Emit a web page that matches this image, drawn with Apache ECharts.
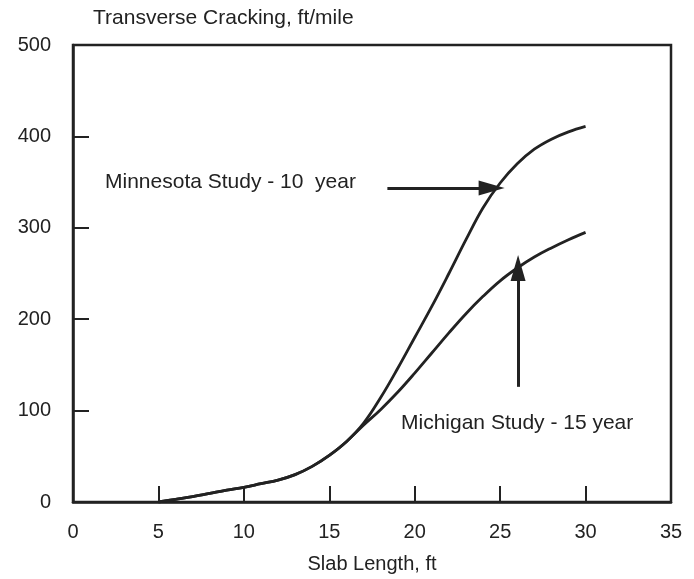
<!DOCTYPE html>
<html>
<head>
<meta charset="utf-8">
<script src="https://cdn.jsdelivr.net/npm/echarts@6/dist/echarts.min.js"></script>
<style>
html,body{margin:0;padding:0;background:#fff;}
#chart{width:694px;height:579px;}
</style>
</head>
<body>
<div id="chart"></div>
<script>
// Data
var minnesota = [[5,0],[6,3],[7,6],[8,9.5],[9,13],[10,16],[11,20],[12,24],[13,30],[14,39],[15,51],[16,66],[17,86],[18,114],[19,146],[20,180],[21,214],[22,250],[23,287],[24,322],[25,349],[26,370],[27,386],[28,397],[29,405],[30,411]];
var michigan = [[5,0],[6,3],[7,6],[8,9.5],[9,13],[10,16],[11,20],[12,24],[13,30],[14,39],[15,51],[16,66],[17,84],[18,101],[19,120],[20,141],[21,163],[22,185],[23,206],[24,225],[25,242],[26,256],[27,268],[28,278],[29,287],[30,295]];
var minnesotaArrow = [[18.4,343.5],[24.5,343.5]];
var michiganArrow = [[26.05,126],[26.05,256]];
var xTicks = [0,5,10,15,20,25,30,35];
var yTicks = [0,100,200,300,400,500];
var titleText = 'Transverse Cracking, ft/mile';
var xName = 'Slab Length, ft';
var labelMinnesota = 'Minnesota Study - 10  year';
var labelMichigan = 'Michigan Study - 15 year';

var chart = echarts.init(document.getElementById('chart'));
var ink = '#222';
var font = '"Liberation Sans", Arial, Helvetica, sans-serif';

function arrowLine(pts){
  return {
    silent: true,
    symbol: ['none','triangle'],
    symbolSize: [15, 26],
    lineStyle: {color: ink, width: 3, type: 'solid'},
    label: {show: false},
    data: [[{coord: pts[0]}, {coord: pts[1]}]]
  };
}

chart.setOption({
  animation: false,
  backgroundColor: '#fff',
  grid: {left: 73, right: 23, top: 45, bottom: 77, show: true, borderColor: ink, borderWidth: 2.5, backgroundColor: 'transparent'},
  xAxis: {
    type: 'value', min: xTicks[0], max: xTicks[xTicks.length-1], interval: 5,
    name: xName, nameLocation: 'middle', nameGap: 52,
    nameTextStyle: {fontFamily: font, fontSize: 20, color: ink},
    axisLine: {show: true, lineStyle: {color: ink, width: 2.5}},
    axisTick: {show: true, inside: true, length: 16, lineStyle: {color: ink, width: 2}},
    axisLabel: {fontFamily: font, fontSize: 20, color: ink, margin: 20},
    splitLine: {show: false}
  },
  yAxis: {
    type: 'value', min: yTicks[0], max: yTicks[yTicks.length-1], interval: 100,
    axisLine: {show: true, lineStyle: {color: ink, width: 2.5}},
    axisTick: {show: true, inside: true, length: 16, lineStyle: {color: ink, width: 2}},
    axisLabel: {fontFamily: font, fontSize: 20, color: ink, margin: 22},
    splitLine: {show: false}
  },
  graphic: [
    {type: 'text', left: 93, top: 8, style: {text: titleText, font: '21px ' + font, fill: ink}},
    {type: 'text', left: 105, top: 172, style: {text: labelMinnesota, font: '21px ' + font, fill: ink}},
    {type: 'text', left: 401, top: 413, style: {text: labelMichigan, font: '21px ' + font, fill: ink}}
  ],
  series: [
    {
      name: 'Minnesota', type: 'line', data: minnesota, smooth: 0.4, showSymbol: false,
      lineStyle: {color: ink, width: 2.8},
      markLine: arrowLine(minnesotaArrow)
    },
    {
      name: 'Michigan', type: 'line', data: michigan, smooth: 0.4, showSymbol: false,
      lineStyle: {color: ink, width: 2.8},
      markLine: arrowLine(michiganArrow)
    }
  ]
});
</script>
</body>
</html>
